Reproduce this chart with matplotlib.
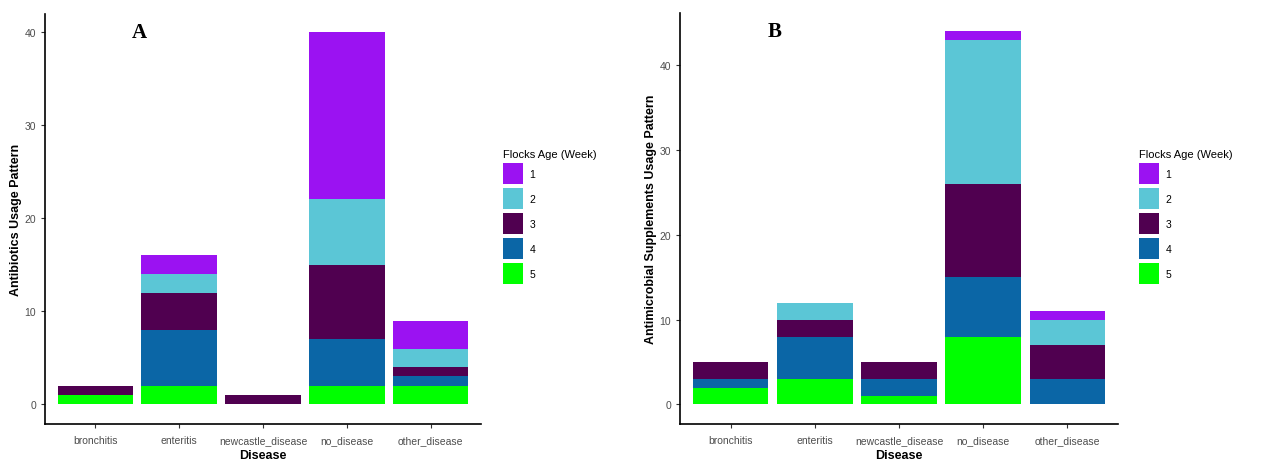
import numpy as np
import matplotlib.pyplot as plt
from matplotlib.patches import Patch

plt.rcParams['font.family'] = ['Liberation Sans', 'DejaVu Sans']

diseases = ['bronchitis', 'enteritis', 'newcastle_disease', 'no_disease', 'other_disease']
ages = ['1', '2', '3', '4', '5']
colors = ['#9B12F2', '#5BC6D6', '#500050', '#0B66A6', '#00FF00']

# counts per age (week), one list per age, in disease order
antibiotics = {
    '5': [1, 2, 0, 2, 2],
    '4': [0, 6, 0, 5, 1],
    '3': [1, 4, 1, 8, 1],
    '2': [0, 2, 0, 7, 2],
    '1': [0, 2, 0, 18, 3],
}
supplements = {
    '5': [2, 3, 1, 8, 0],
    '4': [1, 5, 2, 7, 3],
    '3': [2, 2, 2, 11, 4],
    '2': [0, 2, 0, 17, 3],
    '1': [0, 0, 0, 1, 1],
}

fig = plt.figure(figsize=(12.62, 4.64), dpi=100)
axA = fig.add_axes([45 / 1262, 39 / 464, 436 / 1262, 410 / 464])
axB = fig.add_axes([680 / 1262, 39 / 464, 438 / 1262, 411.5 / 464])


def draw(ax, data, ylabel, letter, ylim, legend_x):
    x = np.arange(len(diseases))
    bottom = np.zeros(len(diseases))
    # stack from age 5 at bottom up to age 1
    for age in ['5', '4', '3', '2', '1']:
        vals = np.array(data[age], dtype=float)
        ax.bar(x, vals, width=0.9, bottom=bottom, color=colors[ages.index(age)], linewidth=0)
        bottom += vals
    ax.set_xlim(-0.6, len(diseases) - 0.4)
    ax.set_ylim(*ylim)
    ax.set_yticks([0, 10, 20, 30, 40])
    ax.set_xticks(x)
    ax.set_xticklabels(diseases)
    ax.tick_params(labelsize=7.5, labelcolor='#4D4D4D', color='#333333', length=3)
    ax.tick_params(axis='x', pad=5)
    for s in ['top', 'right']:
        ax.spines[s].set_visible(False)
    for s in ['left', 'bottom']:
        ax.spines[s].set_linewidth(1.2)
    ax.set_xlabel('Disease', fontsize=9, fontweight='bold', labelpad=3)
    ax.set_ylabel(ylabel, fontsize=9, fontweight='bold', labelpad=2)
    ax.text(0.2, 0.955, letter, transform=ax.transAxes, fontsize=15, fontweight='bold',
            family='Liberation Serif', va='center')
    handles = [Patch(facecolor=c, edgecolor='none', label=a) for a, c in zip(ages, colors)]
    fig.legend(handles=handles, title='Flocks Age (Week)', loc='upper left',
               bbox_to_anchor=(legend_x, 322 / 464), frameon=False, fontsize=7.5,
               title_fontsize=8, handlelength=1.9, handleheight=2.7, labelspacing=0.4,
               handletextpad=0.6, alignment='left', borderpad=0.3)


draw(axA, antibiotics, 'Antibiotics Usage Pattern', 'A', (-2.1, 41.9), 495 / 1262)
draw(axB, supplements, 'Antimicrobial Supplements Usage Pattern', 'B', (-2.3, 46.2), 1131 / 1262)

fig.savefig('out.png', dpi=100)
